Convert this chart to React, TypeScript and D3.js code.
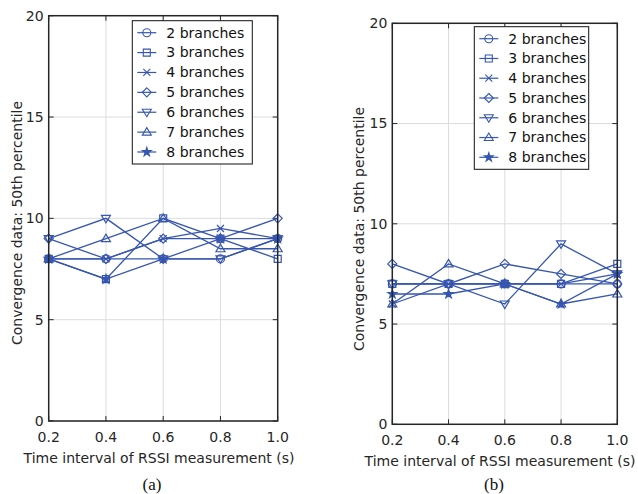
import React, { useRef, useEffect } from 'react';
import * as d3 from 'd3';

// x positions (time interval, s) and axis ticks
const intervals = [0.2, 0.4, 0.6, 0.8, 1.0];
const xTickLabels = ['0.2', '0.4', '0.6', '0.8', '1.0'];
const yTicks = [0, 5, 10, 15, 20];

const seriesNames = ['2 branches', '3 branches', '4 branches', '5 branches', '6 branches', '7 branches', '8 branches'];
const markerTypes = ['circle', 'square', 'x', 'diamond', 'triangleDown', 'triangleUp', 'star'];

// panel (a) values, one row per series
const panelAValues = [
  [8, 8, 8, 8, 9],
  [8, 7, 10, 9, 8],
  [8, 8, 9, 9.5, 9],
  [9, 8, 9, 9, 10],
  [9, 10, 8, 8, 9],
  [8, 9, 10, 8.5, 8.5],
  [8, 7, 8, 9, 9],
];

// panel (b) values
const panelBValues = [
  [7, 7, 7, 7, 7],
  [7, 7, 7, 7, 8],
  [6, 7, 7, 7, 7.5],
  [8, 7, 8, 7.5, 7],
  [7, 7, 6, 9, 7.5],
  [6, 8, 7, 6, 6.5],
  [6.5, 6.5, 7, 6, 7.5],
];

const BLUE = '#3656b0';
const FONT = 'DejaVu Sans, Verdana, sans-serif';

const markerPath = (type: string) => {
  switch (type) {
    case 'circle':
      return d3.symbol(d3.symbolCircle, 50)();
    case 'square':
      return 'M-3.5,-3.5L3.5,-3.5L3.5,3.5L-3.5,3.5Z';
    case 'x':
      return 'M-3.5,-3.5L3.5,3.5M-3.5,3.5L3.5,-3.5';
    case 'diamond':
      return 'M0,-4.5L4.5,0L0,4.5L-4.5,0Z';
    case 'triangleDown':
      return 'M-4.5,-3L4.5,-3L0,4.5Z';
    case 'triangleUp':
      return 'M-4.5,3L4.5,3L0,-4.5Z';
    default:
      return d3.symbol(d3.symbolStar, 24)();
  }
};

const panels = [
  { values: panelAValues, left: 48.7, right: 277.7, top: 15.7, bottom: 421,
    legend: { x: 132.3, y: 20.7, w: 120, h: 143.3 }, ylabel: { x: 17, y: 223 },
    xlabel: { x: 159, y: 463 }, caption: { x: 152, y: 490, text: '(a)' } },
  { values: panelBValues, left: 392.3, right: 617.3, top: 23.3, bottom: 424.3,
    legend: { x: 474.3, y: 26.7, w: 114.4, h: 142.6 }, ylabel: { x: 359, y: 229 },
    xlabel: { x: 500, y: 466 }, caption: { x: 494, y: 490, text: '(b)' } },
];

const App = () => {
  const svgRef = useRef<SVGSVGElement>(null);

  useEffect(() => {
    const svg = d3.select(svgRef.current);
    svg.selectAll('*').remove();

    panels.forEach((p) => {
      const x = d3.scaleLinear().domain([0.2, 1.0]).range([p.left, p.right]);
      const y = d3.scaleLinear().domain([0, 20]).range([p.bottom, p.top]);
      const g = svg.append('g');

      // grid lines
      g.selectAll('.gx').data(intervals).enter().append('line')
        .attr('x1', (d) => x(d)).attr('x2', (d) => x(d))
        .attr('y1', p.top).attr('y2', p.bottom)
        .attr('stroke', '#dcdcdc').attr('stroke-width', 1);
      g.selectAll('.gy').data(yTicks).enter().append('line')
        .attr('x1', p.left).attr('x2', p.right)
        .attr('y1', (d) => y(d)).attr('y2', (d) => y(d))
        .attr('stroke', '#dcdcdc').attr('stroke-width', 1);

      // tick marks on all four sides (inward)
      const tl = 5;
      yTicks.forEach((t) => {
        g.append('line').attr('x1', p.left).attr('x2', p.left + tl).attr('y1', y(t)).attr('y2', y(t)).attr('stroke', '#262626');
        g.append('line').attr('x1', p.right).attr('x2', p.right - tl).attr('y1', y(t)).attr('y2', y(t)).attr('stroke', '#262626');
      });
      intervals.forEach((t) => {
        g.append('line').attr('x1', x(t)).attr('x2', x(t)).attr('y1', p.bottom).attr('y2', p.bottom - tl).attr('stroke', '#262626');
        g.append('line').attr('x1', x(t)).attr('x2', x(t)).attr('y1', p.top).attr('y2', p.top + tl).attr('stroke', '#262626');
      });

      // tick labels
      g.selectAll('.yl').data(yTicks).enter().append('text')
        .attr('x', p.left - 5).attr('y', (d) => y(d)).attr('dy', '0.35em')
        .attr('text-anchor', 'end').attr('font-family', FONT).attr('font-size', 14)
        .attr('fill', '#262626').text((d) => String(d));
      g.selectAll('.xl').data(intervals).enter().append('text')
        .attr('x', (d) => x(d)).attr('y', p.bottom + 16).attr('dy', '0.35em')
        .attr('text-anchor', 'middle').attr('font-family', FONT).attr('font-size', 14)
        .attr('fill', '#262626').text((d, i) => xTickLabels[i]);

      // axis titles
      g.append('text').attr('x', p.xlabel.x).attr('y', p.xlabel.y)
        .attr('text-anchor', 'middle').attr('font-family', FONT).attr('font-size', 14)
        .attr('fill', '#262626').text('Time interval of RSSI measurement (s)');
      g.append('text')
        .attr('transform', `translate(${p.ylabel.x},${p.ylabel.y}) rotate(-90)`)
        .attr('dy', '0.35em').attr('text-anchor', 'middle').attr('font-family', FONT)
        .attr('font-size', 14).attr('fill', '#262626').text('Convergence data: 50th percentile');
      g.append('text').attr('x', p.caption.x).attr('y', p.caption.y)
        .attr('text-anchor', 'middle').attr('font-family', 'Liberation Serif, Times New Roman, serif')
        .attr('font-size', 17).attr('fill', '#111').text(p.caption.text);

      // series
      const line = d3.line<number>().x((d, i) => x(intervals[i])).y((d) => y(d));
      p.values.forEach((vals, si) => {
        g.append('path').datum(vals).attr('d', line)
          .attr('fill', 'none').attr('stroke', BLUE).attr('stroke-width', 1.3);
        g.selectAll(`.m${si}`).data(vals).enter().append('path')
          .attr('transform', (d, i) => `translate(${x(intervals[i])},${y(d)})`)
          .attr('d', markerPath(markerTypes[si]))
          .attr('fill', markerTypes[si] === 'star' ? BLUE : 'none')
          .attr('stroke', BLUE).attr('stroke-width', 1.2);
      });

      // axes box
      g.append('rect').attr('x', p.left).attr('y', p.top)
        .attr('width', p.right - p.left).attr('height', p.bottom - p.top)
        .attr('fill', 'none').attr('stroke', '#262626').attr('stroke-width', 1.5);

      // legend
      const lg = g.append('g');
      lg.append('rect').attr('x', p.legend.x).attr('y', p.legend.y)
        .attr('width', p.legend.w).attr('height', p.legend.h)
        .attr('fill', 'white').attr('stroke', '#111').attr('stroke-width', 1);
      const rowH = (p.legend.h - 24) / 6;
      seriesNames.forEach((name, si) => {
        const ry = p.legend.y + 12 + si * rowH;
        const lx = p.legend.x + 5;
        lg.append('line').attr('x1', lx).attr('x2', lx + 19).attr('y1', ry).attr('y2', ry)
          .attr('stroke', BLUE).attr('stroke-width', 1.2);
        lg.append('path').attr('transform', `translate(${lx + 9.5},${ry})`)
          .attr('d', markerPath(markerTypes[si]))
          .attr('fill', markerTypes[si] === 'star' ? BLUE : 'none')
          .attr('stroke', BLUE).attr('stroke-width', 1.1);
        lg.append('text').attr('x', lx + 29).attr('y', ry).attr('dy', '0.35em')
          .attr('font-family', FONT).attr('font-size', 14).attr('fill', '#111').text(name);
      });
    });
  }, []);

  return (
    <svg ref={svgRef} width={638} height={494} style={{ position: 'absolute', left: 0, top: 0, background: 'white' }} />
  );
};

export default App;
